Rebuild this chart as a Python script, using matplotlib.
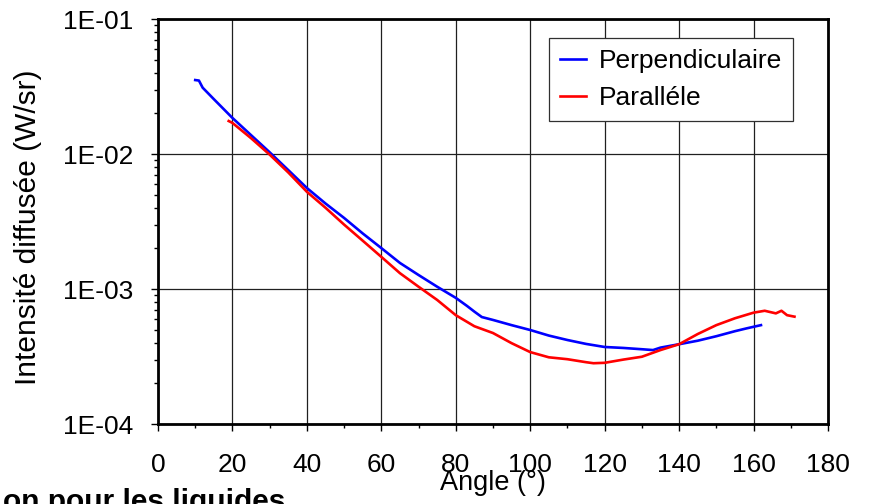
import matplotlib
matplotlib.use('Agg')
import matplotlib.pyplot as plt
from matplotlib.ticker import FixedLocator, LogLocator, NullFormatter, FixedFormatter, MultipleLocator

plt.rcParams['font.family'] = ['Liberation Sans', 'DejaVu Sans']

# Perpendiculaire (blue)
perp_angle = [10, 11, 12, 15, 20, 25, 30, 35, 40, 45, 50, 55, 60, 65, 70, 75, 80, 83,
              85, 87, 90, 95, 100, 105, 110, 115, 120, 125, 130, 133, 135, 140, 145,
              150, 155, 158, 160, 162]
perp_val = [0.0353, 0.0350, 0.031, 0.0255, 0.0185, 0.0138, 0.0103, 0.0076, 0.0056,
            0.0043, 0.00336, 0.00258, 0.00201, 0.00156, 0.00127, 0.00104, 0.00086,
            0.00075, 0.00068, 0.00062, 0.00059, 0.00054, 0.000497, 0.000452, 0.000419,
            0.000392, 0.000372, 0.000366, 0.000358, 0.000353, 0.000368, 0.00039,
            0.000414, 0.000447, 0.000487, 0.00051, 0.000525, 0.00054]

# Paralléle (red)
para_angle = [19, 20, 25, 30, 35, 40, 45, 50, 55, 60, 65, 70, 75, 80, 85, 90, 95, 100,
              105, 110, 115, 117, 120, 125, 130, 135, 140, 145, 150, 155, 160, 163,
              166, 167.5, 169, 171]
para_val = [0.01755, 0.0170, 0.0131, 0.0099, 0.0073, 0.00525, 0.0040, 0.0030, 0.00228,
            0.00173, 0.00131, 0.00104, 0.00083, 0.00064, 0.00053, 0.000472, 0.000397,
            0.000341, 0.000312, 0.000302, 0.000287, 0.000282, 0.000284, 0.000300,
            0.000315, 0.000353, 0.00039, 0.000464, 0.00054, 0.000607, 0.000668,
            0.00069, 0.00066, 0.00069, 0.00064, 0.000624]

x_ticks = [0, 20, 40, 60, 80, 100, 120, 140, 160, 180]
y_ticks = [1e-4, 1e-3, 1e-2, 1e-1]
y_labels = ['1E-04', '1E-03', '1E-02', '1E-01']

fig = plt.figure(figsize=(8.69, 5.04), dpi=100)
ax = fig.add_axes([0.1818, 0.1587, 0.7710, 0.8036])

ax.plot(perp_angle, perp_val, color='#0000FF', lw=1.9, label='Perpendiculaire')
ax.plot(para_angle, para_val, color='#FF0000', lw=1.9, label='Paralléle')

ax.set_yscale('log')
ax.set_xlim(0, 180)
ax.set_ylim(1e-4, 1e-1)

ax.xaxis.set_major_locator(FixedLocator(x_ticks))
ax.xaxis.set_minor_locator(MultipleLocator(10))
ax.yaxis.set_major_locator(FixedLocator(y_ticks))
ax.yaxis.set_major_formatter(FixedFormatter(y_labels))
ax.yaxis.set_minor_locator(LogLocator(base=10, subs=range(2, 10)))
ax.yaxis.set_minor_formatter(NullFormatter())

ax.tick_params(axis='both', which='major', direction='out', length=5, width=1,
               labelsize=19, top=False, right=False)
ax.tick_params(axis='x', which='major', pad=16)
ax.tick_params(axis='y', which='major', pad=13)
ax.tick_params(axis='both', which='minor', direction='out', length=3, width=1,
               top=False, right=False)

ax.grid(True, which='major', color='#202020', lw=0.9)
for s in ax.spines.values():
    s.set_linewidth(2)
    s.set_color('black')

ax.set_xlabel('Angle (°)', fontsize=19.5)
ax.xaxis.set_label_coords(0.5, -0.113)
ax.set_ylabel('Intensité diffusée (W/sr)', fontsize=21.5)
ax.yaxis.set_label_coords(-0.173, 0.485)

leg = ax.legend(loc='upper right', bbox_to_anchor=(0.948, 0.952), fontsize=19,
                frameon=True, fancybox=False, framealpha=1, edgecolor='#303030',
                handlelength=1.0, handletextpad=0.5, borderpad=0.4, labelspacing=0.5,
                borderaxespad=0)
leg.get_frame().set_linewidth(0.9)

fig.text(0.003, -0.012, 'on pour les liquides', fontsize=21.5, fontweight='bold',
         ha='left', va='baseline')

fig.savefig('out.png', dpi=100)
